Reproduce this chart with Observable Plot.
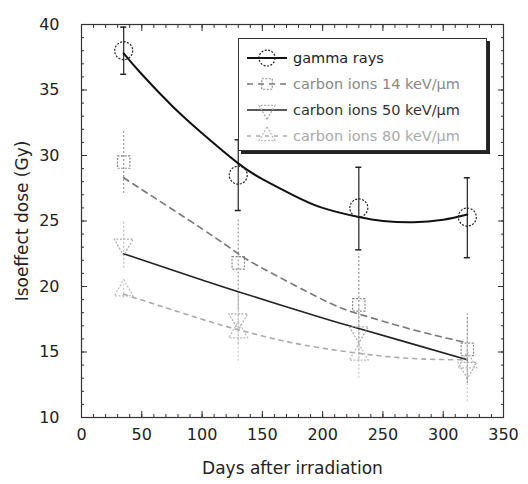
<!DOCTYPE html>
<html>
<head>
<meta charset="utf-8">
<script src="https://cdn.jsdelivr.net/npm/d3@7"></script>
<script src="https://cdn.jsdelivr.net/npm/@observablehq/plot@0.6"></script>
<style>
  html, body { margin: 0; padding: 0; background: #fff; }
  #wrap { position: relative; width: 528px; height: 484px; font-family: "DejaVu Sans", sans-serif; }
  #legend { position: absolute; left: 238px; top: 38px; width: 249px; height: 113px; background: #fff;
    border: 1px solid #333; box-shadow: 3px 3px 0 #222; box-sizing: border-box; padding-top: 6px; }
  .row { display: flex; align-items: center; height: 26px; font-size: 14.5px; }
  .row svg { margin-left: 6px; margin-right: 4px; }
</style>
</head>
<body>
<div id="wrap"><div id="chart"></div><div id="legend"></div></div>
<script>
// ---- data ----
const days = [35, 130, 230, 320];
const seriesNames = ["gamma rays", "carbon ions 14 keV/μm", "carbon ions 50 keV/μm", "carbon ions 80 keV/μm"];

const gammaDose = [38.0, 28.5, 26.0, 25.3];
const gammaLow  = [36.2, 25.8, 22.8, 22.2];
const gammaHigh = [39.8, 31.2, 29.1, 28.3];

const c14Dose = [29.5, 21.8, 18.6, 15.2];
const c14Low  = [27.1, 18.2, 14.8, 12.6];
const c14High = [31.9, 25.1, 22.5, 17.9];

const c50Dose = [23.2, 17.5, 16.5, 13.8];
const c50Low  = [21.4, 15.6, 14.4, 12.8];
const c50High = [25.0, 19.4, 18.6, 15.0];

const c80Dose = [19.7, 16.5, 14.8, 14.2];
const c80Low  = [19.1, 14.3, 13.0, 11.2];
const c80High = [20.3, 18.0, 16.6, 17.5];

// fitted curves
const gammaFitX = [35, 50, 75, 100, 130, 150, 175, 200, 230, 250, 275, 300, 320];
const gammaFitY = [37.8, 36.2, 33.8, 31.7, 29.4, 28.2, 27.0, 26.0, 25.3, 25.0, 24.9, 25.1, 25.5];
const c14FitX = [35, 50, 100, 130, 150, 200, 230, 275, 320];
const c14FitY = [28.3, 27.4, 24.4, 22.5, 21.4, 19.0, 17.9, 16.7, 15.7];
const c50FitX = [35, 100, 130, 200, 230, 275, 320];
const c50FitY = [22.5, 20.5, 19.6, 17.6, 16.8, 15.6, 14.4];
const c80FitX = [35, 100, 130, 175, 230, 275, 320];
const c80FitY = [19.4, 17.5, 16.7, 15.7, 14.9, 14.5, 14.4];

const xTicks = [0, 50, 100, 150, 200, 250, 300, 350];
const yTicks = [10, 15, 20, 25, 30, 35, 40];
const xMinor = d3.range(0, 351, 10);
const yMinor = d3.range(10, 41, 1);

// ---- styles ----
const styles = [
  {name: seriesNames[0], line: "#111", lineDash: null, marker: "#222", symbol: "circle", rotate: 0, bar: "#222", barDash: null, caps: true, text: "#222"},
  {name: seriesNames[1], line: "#777", lineDash: "6,5", marker: "#888", symbol: "square", rotate: 0, bar: "#999", barDash: "2,2", caps: false, text: "#888"},
  {name: seriesNames[2], line: "#222", lineDash: null, marker: "#aaa", symbol: "triangle", rotate: 180, bar: "#bbb", barDash: "2,2", caps: false, text: "#333"},
  {name: seriesNames[3], line: "#aaa", lineDash: "4,5", marker: "#bbb", symbol: "triangle", rotate: 0, bar: "#ccc", barDash: "2,2", caps: false, text: "#aaa"}
];
const doses = [gammaDose, c14Dose, c50Dose, c80Dose];
const lows = [gammaLow, c14Low, c50Low, c80Low];
const highs = [gammaHigh, c14High, c50High, c80High];
const fitsX = [gammaFitX, c14FitX, c50FitX, c80FitX];
const fitsY = [gammaFitY, c14FitY, c50FitY, c80FitY];

const marks = [];
const blank = () => "";

// axes (inward ticks on all four sides)
marks.push(Plot.axisX(xMinor, {anchor: "bottom", tickSize: -3, tickFormat: blank, stroke: "#333", label: null}));
marks.push(Plot.axisX(xMinor, {anchor: "top", tickSize: -3, tickFormat: blank, stroke: "#333", label: null}));
marks.push(Plot.axisX(xTicks, {anchor: "bottom", tickSize: -6, tickPadding: 17, fontSize: 16, stroke: "#333", fill: "#222", label: null}));
marks.push(Plot.axisX(xTicks, {anchor: "top", tickSize: -6, tickFormat: blank, stroke: "#333", label: null}));
marks.push(Plot.axisY(yMinor, {anchor: "left", tickSize: -3, tickFormat: blank, stroke: "#333", label: null}));
marks.push(Plot.axisY(yMinor, {anchor: "right", tickSize: -3, tickFormat: blank, stroke: "#333", label: null}));
marks.push(Plot.axisY(yTicks, {anchor: "left", tickSize: -6, tickPadding: 28, fontSize: 16, stroke: "#333", fill: "#222", label: null}));
marks.push(Plot.axisY(yTicks, {anchor: "right", tickSize: -6, tickFormat: blank, stroke: "#333", label: null}));
marks.push(Plot.frame({stroke: "#333", strokeWidth: 1.2}));

// error bars
styles.forEach((s, k) => {
  const rows = days.map((d, i) => ({x: d, lo: lows[k][i], hi: highs[k][i]}));
  marks.push(Plot.ruleX(rows, {x: "x", y1: "lo", y2: "hi", stroke: s.bar, strokeDasharray: s.barDash, strokeWidth: 1.2}));
  if (s.caps) {
    marks.push(Plot.ruleY(rows, {y: "lo", x1: d => d.x - 2.5, x2: d => d.x + 2.5, stroke: s.bar, strokeWidth: 1.5}));
    marks.push(Plot.ruleY(rows, {y: "hi", x1: d => d.x - 2.5, x2: d => d.x + 2.5, stroke: s.bar, strokeWidth: 1.5}));
  }
});
// fit lines
styles.forEach((s, k) => {
  const rows = fitsX[k].map((x, i) => ({x, y: fitsY[k][i]}));
  marks.push(Plot.line(rows, {x: "x", y: "y", curve: "natural", stroke: s.line, strokeWidth: k === 0 ? 2 : 1.6, strokeDasharray: s.lineDash}));
});
// markers
styles.forEach((s, k) => {
  const rows = days.map((d, i) => ({x: d, y: doses[k][i]}));
  marks.push(Plot.dot(rows, {x: "x", y: "y", symbol: () => s.symbol, r: k === 0 ? 9 : 7, rotate: s.rotate,
    stroke: s.marker, strokeWidth: 1.2, strokeDasharray: "2,1.5", fill: "none"}));
});

const chart = Plot.plot({
  width: 528, height: 484,
  marginLeft: 81, marginRight: 25, marginTop: 24, marginBottom: 67,
  style: {fontFamily: "DejaVu Sans, sans-serif", background: "#fff"},
  x: {domain: [0, 350], axis: null},
  y: {domain: [10, 40], axis: null},
  symbol: {type: "identity"},
  marks: [
    ...marks,
    Plot.axisX({anchor: "bottom", ticks: [], tickSize: 0, label: "Days after irradiation", labelAnchor: "center", labelOffset: 56, labelArrow: "none", fontSize: 17, fill: "#222"}),
    Plot.axisY({anchor: "left", ticks: [], tickSize: 0, label: "Isoeffect dose (Gy)", labelAnchor: "center", labelOffset: 66, labelArrow: "none", fontSize: 17, fill: "#222"})
  ]
});
document.getElementById("chart").appendChild(chart);

// legend
const legend = d3.select("#legend");
styles.forEach((s, k) => {
  const row = legend.append("div").attr("class", "row");
  const svg = row.append("svg").attr("width", 44).attr("height", 24);
  svg.append("line").attr("x1", 2).attr("x2", 42).attr("y1", 12).attr("y2", 12)
    .attr("stroke", s.line).attr("stroke-width", k === 0 ? 2 : 1.6).attr("stroke-dasharray", s.lineDash);
  const sym = d3.symbol(s.symbol === "circle" ? d3.symbolCircle : s.symbol === "square" ? d3.symbolSquare : d3.symbolTriangle, k === 0 ? 200 : 110);
  svg.append("path").attr("d", sym()).attr("transform", `translate(22,12) rotate(${s.rotate})`)
    .attr("fill", "none").attr("stroke", s.marker).attr("stroke-width", 1.2).attr("stroke-dasharray", "2,1.5");
  row.append("span").text(s.name).style("color", s.text);
});
</script>
</body>
</html>
